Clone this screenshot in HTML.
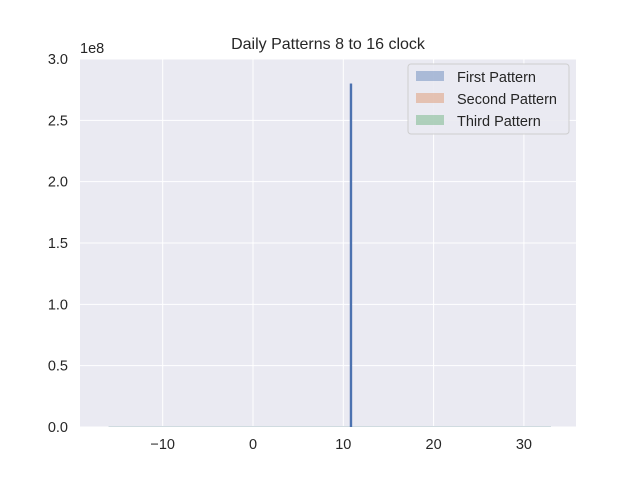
<!DOCTYPE html>
<html><head><meta charset="utf-8"><style>
body{margin:0;background:#fff;font-family:"Liberation Sans","DejaVu Sans",sans-serif;}
text{font-family:"Liberation Sans","DejaVu Sans",sans-serif;fill:#262626;}
</style></head><body>
<svg width="640" height="480" xmlns="http://www.w3.org/2000/svg">
<rect x="80" y="59" width="496" height="368" fill="#eaeaf2"/>
<g id="grid"></g>
<g id="bars"></g>
<text x="328" y="49" font-size="16" text-anchor="middle">Daily Patterns 8 to 16 clock</text>
<text x="80" y="53" font-size="14.5">1e8</text>
<g>
<rect x="408" y="64" width="161" height="70" rx="3" fill="#eaeaf2" stroke="#cccccc" opacity="0.9"/>
<rect x="416" y="71" width="28" height="10" fill="#4c72b0" opacity="0.4"/>
<text x="457" y="82" font-size="14.5">First Pattern</text>
<rect x="416" y="93" width="28" height="10" fill="#dd8452" opacity="0.4"/>
<text x="457" y="104" font-size="14.5">Second Pattern</text>
<rect x="416" y="115" width="28" height="10" fill="#55a868" opacity="0.4"/>
<text x="457" y="126" font-size="14.5">Third Pattern</text>
</g>
</svg>
<script>
const xTicks=[-10,0,10,20,30];
const yTicks=[0,0.5,1.0,1.5,2.0,2.5,3.0];
const yTickLabels=["0.0","0.5","1.0","1.5","2.0","2.5","3.0"];
const barX=[10.85];
const barValues=[2.8];
const NS="http://www.w3.org/2000/svg";
const xs=v=>253+v*9.03;
const ys=v=>427-v*122.67;
const svg=document.querySelector('svg');
const grid=document.getElementById('grid');
const bars=document.getElementById('bars');
function mk(t,a,p){const e=document.createElementNS(NS,t);for(const k in a)e.setAttribute(k,a[k]);p.appendChild(e);return e;}
xTicks.forEach(v=>{
 const l=mk('line',{x1:xs(v),x2:xs(v),y1:59,y2:427,stroke:'#fff','stroke-width':1},grid);
 
 
 const t=mk('text',{x:xs(v),y:449,'font-size':14.5,'text-anchor':'middle'},svg);
 t.textContent=(v<0?'\u2212'+(-v):v);
 
 
});
yTicks.forEach((v,i)=>{
 const l=mk('line',{x1:80,x2:576,y1:ys(v),y2:ys(v),stroke:'#fff','stroke-width':1},grid);
 
 
 const t=mk('text',{x:68,y:ys(v)+5,'font-size':14.5,'text-anchor':'end'},svg);
 t.textContent=yTickLabels[i];
 
 
});
const base=mk('line',{x1:xs(-16),x2:xs(33),y1:426.5,y2:426.5,stroke:'#d0dbe0','stroke-width':1},bars);


barX.forEach((x,i)=>{
 const r=mk('rect',{x:xs(x)-1.2,y:ys(barValues[i]),width:2.4,height:427-ys(barValues[i]),fill:'#4c72b0'},bars);
 
 
});
</script>
</body></html>
